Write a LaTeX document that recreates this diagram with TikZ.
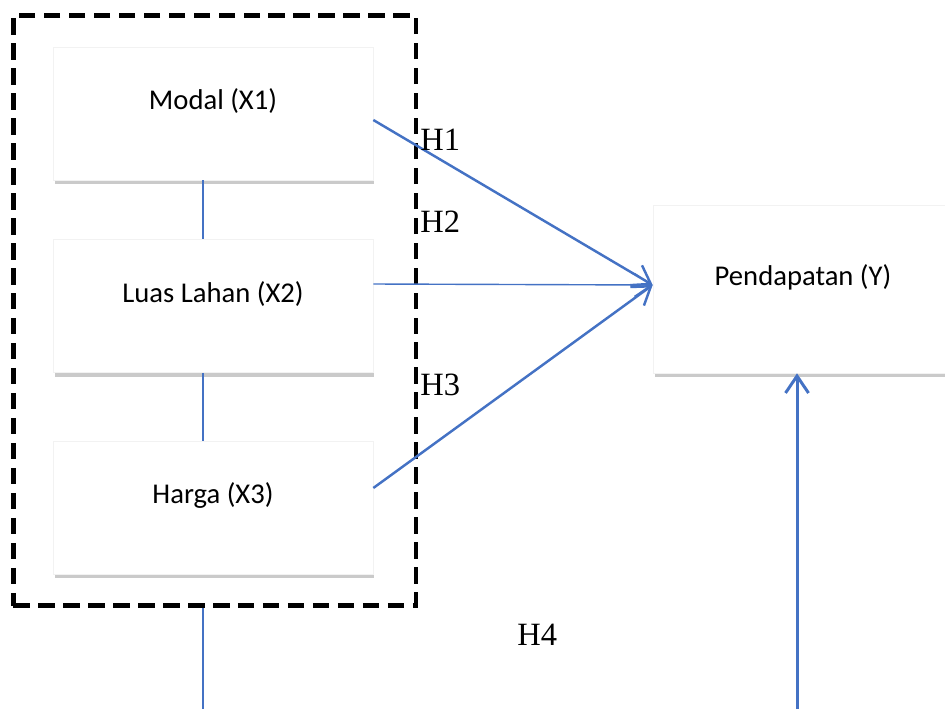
\documentclass[tikz,border=0pt]{standalone}
\usepackage{fontspec}
\setmainfont{Liberation Serif}
\newfontfamily\kastenfont{Carlito}
\usetikzlibrary{arrows.meta,shadows}
\definecolor{pfeilblau}{HTML}{4472C4}
\tikzset{
  kasten/.style={draw=black!5, fill=white, inner sep=0pt,
    minimum width=6.4cm, minimum height=2.66cm,
    font=\kastenfont\fontsize{16.3}{19}\selectfont, text height=0.4cm, text depth=0.56cm,
    drop shadow={shadow xshift=0.03cm, shadow yshift=-0.09cm, fill=black!60, opacity=0.35}},
  rahmen/.style={draw, line width=2.8pt, dash pattern=on 0.33cm off 0.17cm, inner sep=0pt},
  pfeil/.style={draw=pfeilblau, line width=1.4pt, -{Straight Barb[length=0.34cm,width=0.46cm]}},
  linie/.style={draw=pfeilblau, line width=0.7pt},
  hyp/.style={font=\fontsize{18.5}{21}\selectfont, inner sep=0pt, anchor=west}
}
\begin{document}
\begin{tikzpicture}[x=0.02cm, y=-0.02cm]
    \useasboundingbox (0,0) rectangle (945,709);
    % Rahmen um X1 bis X3
    \node[rahmen, minimum width=8.06cm, minimum height=11.82cm] (gruppe) at (214.5,310.5) {};
    % Variablen
    \node[kasten] (modal) at (213,113.5) {Modal (X1)};
    \node[kasten] (luas) at (213,306) {Luas Lahan (X2)};
    \node[kasten] (harga) at (213,507.5) {Harga (X3)};
    \node[kasten, minimum width=6cm, minimum height=3.36cm] (pendapatan) at (803,289) {Pendapatan (Y)};
    % Verbindungen
    \draw[linie] ([xshift=-0.2cm]modal.south) -- ([xshift=-0.2cm]luas.north);
    \draw[linie] ([xshift=-0.2cm]luas.south) -- ([xshift=-0.2cm]harga.north);
    \draw[pfeil] ([yshift=-0.13cm]modal.east) -- ([yshift=0.08cm]pendapatan.west);
    \draw[pfeil, line width=0.8pt] ([yshift=0.44cm]luas.east) -- ([yshift=0.08cm]pendapatan.west);
    \draw[pfeil] ([yshift=0.39cm]harga.east) -- ([yshift=0.08cm]pendapatan.west);
    \coordinate (untenlinks) at (203,709);
    \coordinate (untenrechts) at (797,709);
    \draw[linie, line width=1.7pt] (gruppe.south -| untenlinks) -- (untenlinks);
    \draw[pfeil, line width=1.7pt] (untenrechts) -- (pendapatan.south -| untenrechts);
    % Hypothesen
    \node[hyp] (h1) at (420,140) {H1};
    \node[hyp] (h2) at (420,222) {H2};
    \node[hyp] (h3) at (420,385) {H3};
    \node[hyp] (h4) at (517,635) {H4};
\end{tikzpicture}
\end{document}
